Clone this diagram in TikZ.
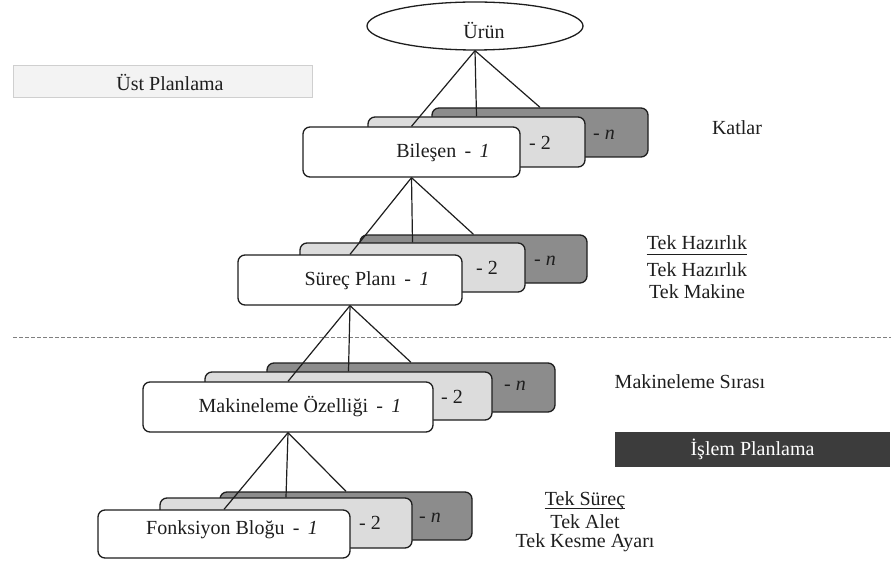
\documentclass[tikz,border=0pt]{standalone}
\usepackage{fontspec}
\setmainfont{Liberation Serif}
\usetikzlibrary{shapes.geometric}
\definecolor{inkc}{HTML}{1E1E1E}
\definecolor{lightbox}{HTML}{DCDCDC}
\definecolor{darkbox}{HTML}{8C8C8C}
\definecolor{bandfill}{HTML}{F3F3F3}
\definecolor{bandedge}{HTML}{CFCFCF}
\definecolor{opband}{HTML}{3C3C3C}
\tikzset{
  txt/.style={text=inkc,font=\fontsize{20}{20}\selectfont,inner sep=0pt},
  card/.style={rectangle,rounded corners=7pt,draw=inkc,line width=1.3pt,inner sep=0pt},
  frontcard/.style={card,fill=white},
  midcard/.style={card,fill=lightbox},
  backcard/.style={card,fill=darkbox},
  link/.style={draw=inkc,line width=1.2pt},
}
\begin{document}
\begin{tikzpicture}[x=1pt,y=-1pt]
\useasboundingbox (0,0) rectangle (891,564);

% --- planning bands -------------------------------------------------
\node[rectangle,fill=bandfill,draw=bandedge,line width=0.8pt,
      minimum width=299pt,minimum height=32pt,inner sep=0pt] (ust) at (162.5,81) {};
\node[txt] (ustlbl) at (170,82) {Üst Planlama};

\node[rectangle,fill=opband,minimum width=275pt,minimum height=35pt,inner sep=0pt,
      text=white,font=\fontsize{20}{20}\selectfont] (islem) at (752.5,449.5) {İşlem Planlama};

\coordinate (dashL) at (13,337);
\coordinate (dashR) at (891,337);
\draw[dashed,draw=gray,line width=1pt,dash pattern=on 4pt off 2pt] (dashL) -- (dashR);

% --- root -------------------------------------------------------------
\node[ellipse,draw=inkc,line width=1.3pt,fill=white,minimum width=216pt,
      minimum height=48pt,inner sep=0pt] (urun) at (475,26) {};
\node[txt] (urunlbl) at (484,30) {Ürün};

% --- component stack ---------------------------------------------------
\node[backcard,minimum width=216pt,minimum height=49pt] (bil3) at (540,132.5) {};
\node[midcard,minimum width=217pt,minimum height=50pt] (bil2) at (476.5,142) {};
\node[frontcard,minimum width=217pt,minimum height=50pt] (bil1) at (411.5,152) {};
\node[txt] (bil1lbl) at (443,153) {Bileşen \,-\, \textit{1}};
\node[txt] (bil2lbl) at (540,143) {- 2};
\node[txt] (bil3lbl) at (604,135) {- \textit{n}};

% --- process plan stack -------------------------------------------------
\node[backcard,minimum width=227pt,minimum height=48pt] (sur3) at (473.5,259) {};
\node[midcard,minimum width=225pt,minimum height=49pt] (sur2) at (412.5,267.5) {};
\node[frontcard,minimum width=224pt,minimum height=50pt] (sur1) at (350,280) {};
\node[txt] (sur1lbl) at (367,281) {Süreç Planı \,-\, \textit{1}};
\node[txt] (sur2lbl) at (487,268) {- 2};
\node[txt] (sur3lbl) at (545,261) {- \textit{n}};

% --- machining feature stack --------------------------------------------
\node[backcard,minimum width=288pt,minimum height=49pt] (mak3) at (411,387.5) {};
\node[midcard,minimum width=287pt,minimum height=48pt] (mak2) at (348.5,396) {};
\node[frontcard,minimum width=290pt,minimum height=50pt] (mak1) at (288,407) {};
\node[txt] (mak1lbl) at (300,407) {Makineleme Özelliği \,-\, \textit{1}};
\node[txt] (mak2lbl) at (452,397) {- 2};
\node[txt] (mak3lbl) at (515,386) {- \textit{n}};

% --- function block stack ------------------------------------------------
\node[backcard,minimum width=252pt,minimum height=48pt] (fon3) at (346,516) {};
\node[midcard,minimum width=252pt,minimum height=50pt] (fon2) at (286,523) {};
\node[frontcard,minimum width=252pt,minimum height=48pt] (fon1) at (224,534) {};
\node[txt] (fon1lbl) at (232,530) {Fonksiyon Bloğu \,-\, \textit{1}};
\node[txt] (fon2lbl) at (370,523) {- 2};
\node[txt] (fon3lbl) at (430,518) {- \textit{n}};

% --- tree links -----------------------------------------------------------
\foreach \a/\b in {urun/bil,bil1/sur,sur1/mak,mak1/fon}{
  \draw[link] (\a.south) -- (\b1.north);
  \draw[link] (\a.south) -- (\b2.north);
  \draw[link] (\a.south) -- (\b3.north);
}

% --- side notes -------------------------------------------------------------
\node[txt] (katlar) at (737,128) {Katlar};
\node[txt] (hz1) at (697,243) {Tek Hazırlık};
\coordinate (hzL) at (hz1.base west);
\coordinate (hzR) at (hz1.base east);
\draw[inkc,line width=0.8pt] ([yshift=-5pt]hzL) -- ([yshift=-5pt]hzR);
\node[txt] (hz2) at (697,270) {Tek Hazırlık};
\node[txt] (hz3) at (697,292) {Tek Makine};

\node[txt] (sira) at (690,382) {Makineleme Sırası};

\node[txt] (ts1) at (585,501) {Tek Süreç};
\coordinate (tsL) at (ts1.base west);
\coordinate (tsR) at (ts1.base east);
\draw[inkc,line width=0.8pt] ([yshift=-2.5pt]tsL) -- ([yshift=-2.5pt]tsR);
\node[txt] (ts2) at (585,522) {Tek Alet};
\node[txt] (ts3) at (585,543) {Tek Kesme Ayarı};
\end{tikzpicture}
\end{document}
